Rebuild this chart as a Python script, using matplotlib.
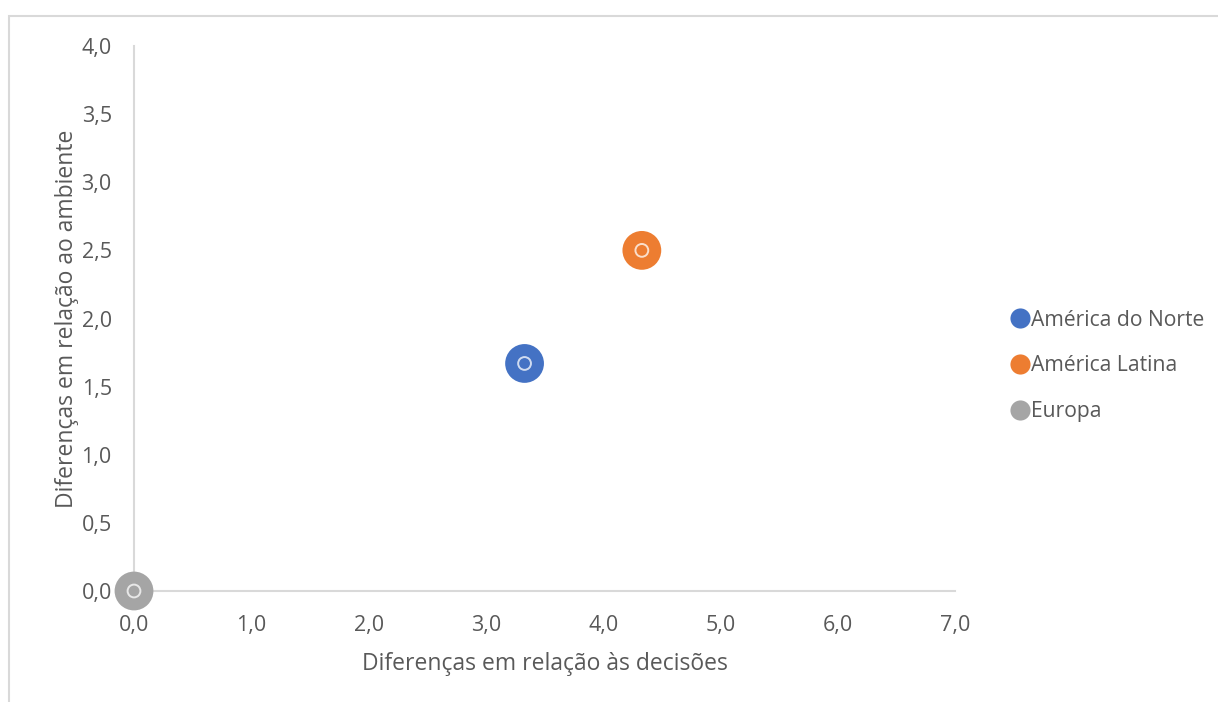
import matplotlib
matplotlib.use("Agg")
import matplotlib.pyplot as plt
from matplotlib.lines import Line2D

# Region data
regions = ["América do Norte", "América Latina", "Europa"]
decisoes = [3.33, 4.33, 0.0]
ambiente = [1.67, 2.5, 0.0]
colors = ["#4472C4", "#ED7D31", "#A5A5A5"]

x_ticks = [0, 1, 2, 3, 4, 5, 6, 7]
y_ticks = [0, 0.5, 1.0, 1.5, 2.0, 2.5, 3.0, 3.5, 4.0]

plt.rcParams["font.family"] = ["Open Sans", "DejaVu Sans"]

W, H = 1218, 702
fig = plt.figure(figsize=(W / 100, H / 100), dpi=100)
ax = fig.add_axes([134 / W, 1 - 591 / H, (955 - 134) / W, (591 - 46) / H])

for name, x, y, c in zip(regions, decisoes, ambiente, colors):
    ax.scatter([x], [y], s=780, color=c, edgecolors="none", zorder=3,
               label=name, clip_on=False)
    ax.scatter([x], [y], s=85, facecolors="none", edgecolors="white",
               linewidths=1.4, alpha=0.75, zorder=4, clip_on=False)

ax.set_xlim(0, 7)
ax.set_ylim(0, 4)
ax.set_xticks(x_ticks)
ax.set_yticks(y_ticks)
ax.set_xticklabels([f"{v:.1f}".replace(".", ",") for v in x_ticks])
ax.set_yticklabels([f"{v:.1f}".replace(".", ",") for v in y_ticks])
ax.tick_params(length=0, colors="#595959", labelsize=15.5)
ax.tick_params(axis="x", pad=17)
ax.tick_params(axis="y", pad=16)

for side in ("top", "right"):
    ax.spines[side].set_visible(False)
for side in ("left", "bottom"):
    ax.spines[side].set_color("#D9D9D9")
    ax.spines[side].set_linewidth(1.5)
    ax.spines[side].set_zorder(1)

ax.set_xlabel("Diferenças em relação às decisões", fontsize=16.5, color="#595959", labelpad=12)
ax.set_ylabel("Diferenças em relação ao ambiente", fontsize=16.5, color="#595959", labelpad=1.5)

handles = [Line2D([0], [0], marker="o", linestyle="none", markersize=14.5,
                  markerfacecolor=c, markeredgecolor="none") for c in colors]
fig.legend(handles, regions, loc="upper left",
           bbox_to_anchor=(999 / W, 1 - 299 / H), frameon=False,
           fontsize=15.2, labelcolor="#595959", handletextpad=0.0,
           handlelength=1.0, labelspacing=1.17, borderpad=0)

# Outer chart-area border (top and left edges)
border = Line2D([8.5 / W, 8.5 / W, 1.0], [0.0, 1 - 15.5 / H, 1 - 15.5 / H],
                color="#D9D9D9", linewidth=1.5, solid_capstyle="butt",
                solid_joinstyle="miter", transform=fig.transFigure)
fig.add_artist(border)

fig.savefig("out.png", dpi=100)
